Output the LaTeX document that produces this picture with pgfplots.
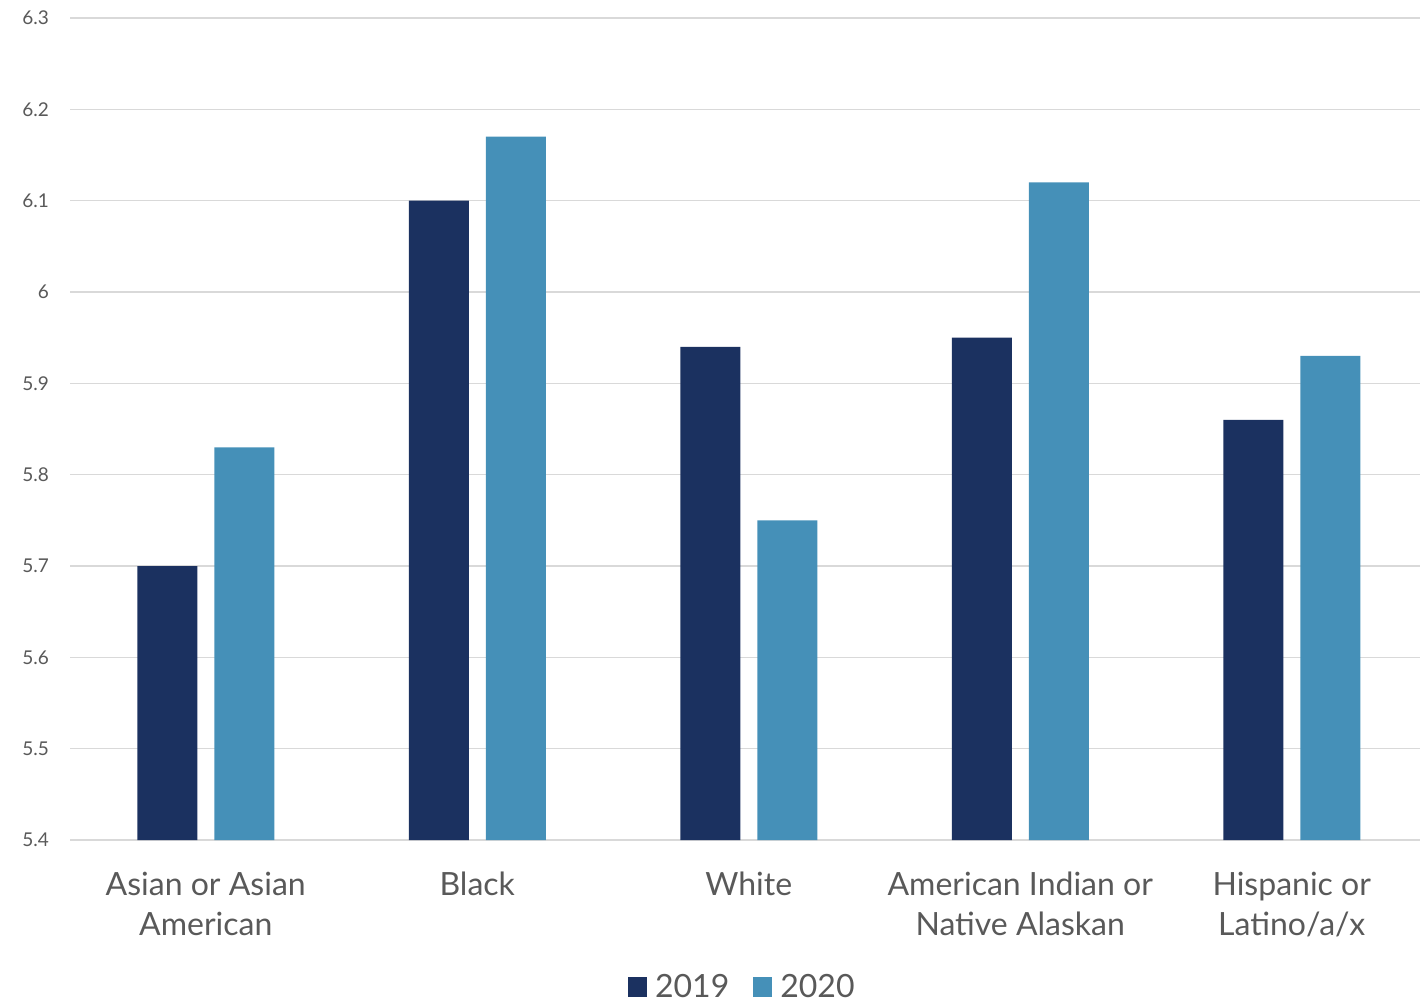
\documentclass[border=0pt]{standalone}
\usepackage{pgfplots}
\pgfplotsset{compat=1.18}
\usepackage{fontspec}
\setmainfont{Lato}
\definecolor{navy}{HTML}{1B3160}
\definecolor{steel}{HTML}{4590B8}
\definecolor{txt}{HTML}{595959}
\definecolor{gridc}{HTML}{D9D9D9}
\begin{document}
\begin{tikzpicture}
\useasboundingbox (0,0) rectangle (710pt,501.5pt);
\begin{axis}[
    at={(35pt,81.5pt)}, anchor=south west,
    scale only axis,
    width=678.75pt, height=411pt,
    ybar=8.5pt, bar width=30pt,
    xmin=-0.5, xmax=4.5,
    ymin=5.4, ymax=6.3,
    ytick={5.4,5.5,5.6,5.7,5.8,5.9,6,6.1,6.2,6.3},
    xtick={0,1,2,3,4},
    xticklabels={Asian or Asian\\American, Black, White, American Indian or\\Native Alaskan, Hispanic or\\Latino/a/x},
    xticklabel style={align=center, font=\fontsize{16}{20}\selectfont, text=txt, anchor=north, yshift=-12.5pt},
    yticklabel style={font=\fontsize{9.5}{11}\selectfont, text=txt, xshift=-7pt},
    /pgf/number format/assume math mode=true,
    major tick length=0pt,
    axis line style={draw=none},
    ymajorgrids=true,
    grid style={draw=gridc, line width=0.8pt},
    legend style={at={(0.496,-0.2)}, anchor=south, draw=none, inner sep=0pt, legend columns=-1,
        font=\fontsize{16}{18}\selectfont, text=txt,
        /tikz/every odd column/.append style={column sep=2pt},
        /tikz/every even column/.append style={column sep=10pt}},
    legend image code/.code={\fill[#1] (0pt,-4.8pt) rectangle (9.5pt,4.8pt);},
]
\addplot[fill=navy, draw=none] coordinates {(0,5.70) (1,6.10) (2,5.94) (3,5.95) (4,5.86)};
\addplot[fill=steel, draw=none] coordinates {(0,5.83) (1,6.17) (2,5.75) (3,6.12) (4,5.93)};
\legend{2019, 2020}
\end{axis}
\end{tikzpicture}
\end{document}
